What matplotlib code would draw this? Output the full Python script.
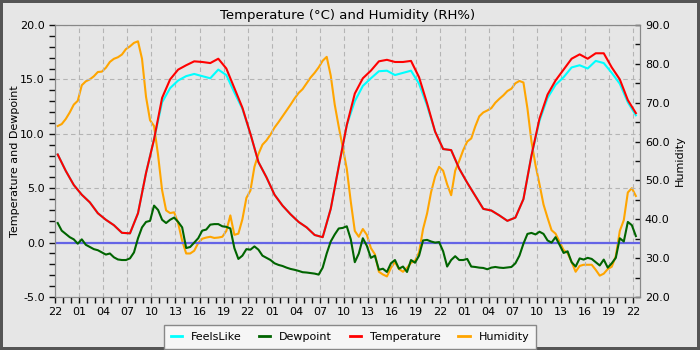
import numpy as np
import pandas as pd
import matplotlib
matplotlib.use("Agg")
import matplotlib.pyplot as plt
import matplotlib.dates as mdates
from matplotlib.ticker import MultipleLocator, FormatStrFormatter

# hourly readings, first sample 22:20
temperature = [
    8.1, 6.6, 5.3, 4.4, 3.7, 2.7, 2.1, 1.6, 0.9, 0.85, 2.7, 6.4,
    9.5, 13.3, 15.0, 15.9, 16.3, 16.66, 16.6, 16.5, 16.9, 16.0, 14.2, 12.4,
    10.0, 7.4, 6.0, 4.4, 3.4, 2.6, 1.9, 1.4, 0.7, 0.5, 3.1, 7.0,
    10.8, 13.7, 15.1, 15.8, 16.66, 16.8, 16.6, 16.6, 16.7, 15.2, 12.8, 10.2,
    8.6, 8.5, 6.8, 5.5, 4.3, 3.1, 2.95, 2.5, 2.0, 2.3, 4.0, 8.0,
    11.4, 13.6, 14.9, 15.9, 16.9, 17.3, 16.9, 17.4, 17.4, 16.1, 15.0, 13.1,
    11.9,
]
feels_like = [
    8.1, 6.6, 5.3, 4.4, 3.7, 2.7, 2.1, 1.6, 0.9, 0.85, 2.7, 6.4,
    9.5, 12.9, 14.2, 14.9, 15.3, 15.5, 15.3, 15.1, 15.9, 15.4, 13.8, 12.3,
    10.0, 7.4, 6.0, 4.4, 3.4, 2.6, 1.9, 1.4, 0.7, 0.5, 3.1, 7.0,
    10.8, 13.0, 14.4, 15.1, 15.75, 15.8, 15.4, 15.6, 15.8, 14.6, 12.6, 10.2,
    8.6, 8.5, 6.8, 5.5, 4.3, 3.1, 2.95, 2.5, 2.0, 2.3, 4.0, 8.0,
    11.2, 13.3, 14.5, 15.2, 16.1, 16.3, 16.0, 16.7, 16.5, 15.6, 14.6, 12.9,
    11.7,
]

# half-hourly readings, first sample 22:20
dewpoint = [
    1.8, 1.1, 0.8, 0.5, 0.3, -0.1, 0.3, -0.2, -0.4, -0.6, -0.7, -0.9,
    -1.1, -1.0, -1.35, -1.55, -1.6, -1.6, -1.45, -0.9, 0.4, 1.4, 1.9, 2.0,
    3.4, 3.0, 2.1, 1.8, 2.1, 2.3, 1.9, 1.4, -0.5, -0.4, 0.0, 0.4,
    1.1, 1.2, 1.65, 1.7, 1.7, 1.5, 1.45, 1.3, -0.5, -1.5, -1.2, -0.6,
    -0.65, -0.35, -0.65, -1.2, -1.4, -1.6, -1.9, -2.05, -2.15, -2.3, -2.42, -2.5,
    -2.6, -2.72, -2.75, -2.8, -2.85, -2.94, -2.3, -1.0, 0.1, 0.75, 1.3, 1.35,
    1.5, 0.3, -1.8, -1.0, 0.4, -0.3, -1.4, -1.2, -2.5, -2.4, -2.7, -1.9,
    -1.6, -2.4, -2.2, -2.7, -1.6, -1.85, -1.2, 0.2, 0.25, 0.1, 0.0, 0.05,
    -0.8, -2.2, -1.6, -1.25, -1.6, -1.6, -1.5, -2.2, -2.24, -2.3, -2.33, -2.45,
    -2.3, -2.24, -2.3, -2.33, -2.28, -2.24, -1.9, -1.2, -0.1, 0.8, 0.89, 0.75,
    1.0, 0.8, 0.2, 0.0, 0.5, -0.2, -0.95, -0.8, -1.8, -2.2, -1.45, -1.56,
    -1.4, -1.5, -1.8, -2.1, -1.56, -2.3, -1.9, -1.4, 0.4, 0.1, 1.9, 1.6,
    0.6,
]
humidity = [
    64.0, 64.5, 65.8, 67.5, 69.5, 70.5, 74.5, 75.5, 76.0, 76.8, 77.9, 78.0,
    79.0, 80.5, 81.3, 81.7, 82.4, 83.8, 84.5, 85.4, 85.8, 81.3, 71.5, 65.5,
    64.0, 56.5, 47.5, 42.3, 41.6, 41.8, 39.0, 34.5, 31.2, 31.2, 31.9, 33.9,
    35.0, 35.3, 35.5, 35.2, 35.3, 35.5, 37.0, 41.0, 36.0, 36.3, 40.0, 45.5,
    47.4, 53.5, 56.8, 59.2, 60.3, 61.8, 63.6, 65.0, 66.5, 68.0, 69.5, 71.1,
    72.5, 73.5, 75.0, 76.5, 77.7, 79.1, 80.8, 81.8, 77.0, 69.5, 63.8, 58.5,
    53.0, 44.5, 37.0, 35.5, 37.5, 36.0, 32.6, 31.0, 26.5, 25.8, 25.3, 27.5,
    29.0, 27.2, 26.5, 27.5, 28.8, 29.3, 31.5, 37.5, 41.5, 47.0, 51.0, 53.5,
    52.5, 49.0, 46.2, 52.5, 55.0, 57.8, 60.0, 60.8, 63.9, 66.5, 67.5, 68.0,
    68.6, 70.0, 71.0, 71.9, 73.0, 73.6, 75.0, 75.6, 75.2, 68.5, 60.0, 54.0,
    49.0, 43.8, 40.4, 37.2, 36.3, 34.2, 32.1, 31.3, 29.0, 26.5, 28.0, 28.3,
    28.3, 28.3, 27.0, 25.5, 26.0, 27.2, 27.8, 30.5, 37.0, 39.8, 46.9, 48.0,
    46.0,
]

start = "2024-05-13 22:20"
t_hourly = pd.date_range(start, periods=len(temperature), freq="h")
t_half = pd.date_range(start, periods=len(dewpoint), freq="30min")

bg = "#e6e6e6"
fig = plt.figure(figsize=(7, 3.5), dpi=100, facecolor=bg)
fig.patch.set_edgecolor("#555555")
fig.patch.set_linewidth(4)

ax = fig.add_axes([0.0786, 0.1514, 0.8357, 0.7772])
ax2 = ax.twinx()
# humidity sits underneath the temperature axes
ax2.set_zorder(ax.get_zorder() - 1)
ax.patch.set_visible(False)
ax2.patch.set_facecolor(bg)

lw = 1.5
ax.axhline(0, color="#6464e6", lw=1.6, zorder=1.8)
l1, = ax.plot(t_hourly, feels_like, color="#00ffff", lw=lw, label="FeelsLike", zorder=2)
l2, = ax.plot(t_half, dewpoint, color="#006400", lw=lw, label="Dewpoint", zorder=3)
l3, = ax.plot(t_hourly, temperature, color="#ff0000", lw=lw, label="Temperature", zorder=2.5)
l4, = ax2.plot(t_half, humidity, color="#ffa500", lw=lw, label="Humidity")

ax.set_ylim(-5, 20)
ax2.set_ylim(20, 90)
ax.set_xlim(pd.Timestamp("2024-05-13 22:00"), pd.Timestamp("2024-05-16 22:51"))

ax.yaxis.set_major_locator(MultipleLocator(5))
ax.yaxis.set_minor_locator(MultipleLocator(1))
ax.yaxis.set_major_formatter(FormatStrFormatter("%.1f"))
ax2.yaxis.set_major_locator(MultipleLocator(10))
ax2.yaxis.set_minor_locator(MultipleLocator(5))
ax2.yaxis.set_major_formatter(FormatStrFormatter("%.1f"))

ax.xaxis.set_major_locator(mdates.HourLocator(byhour=range(1, 24, 3)))
ax.xaxis.set_minor_locator(mdates.HourLocator())
ax.xaxis.set_major_formatter(mdates.DateFormatter("%H"))

ax.grid(True, which="major", color="#b4b4b4", ls=(0, (4, 3)), lw=0.8)

for a in (ax, ax2):
    for s in a.spines.values():
        s.set_color("#888888")
ax.tick_params(which="both", labelsize=8, length=4, width=1, color="#111111", direction="out")
ax2.tick_params(which="both", labelsize=8, length=3.5, width=1, color="#111111", direction="in")

ax.set_ylabel("Temperature and Dewpoint", fontsize=8, labelpad=0)
ax2.set_ylabel("Humidity", fontsize=8)
ax.set_title("Temperature (°C) and Humidity (RH%)", fontsize=9.5, pad=4)

leg = fig.legend([l1, l2, l3, l4], [l.get_label() for l in (l1, l2, l3, l4)],
                 loc="lower center", bbox_to_anchor=(0.5, -0.012), ncol=4, fontsize=8,
                 handlelength=1.0, columnspacing=1.6, borderpad=0.6, fancybox=False,
                 facecolor="#f6f6f6", edgecolor="#888888", framealpha=1)
for h in leg.legend_handles:
    h.set_linewidth(2)

fig.savefig("out.png", dpi=100, facecolor=bg, edgecolor=fig.patch.get_edgecolor())
